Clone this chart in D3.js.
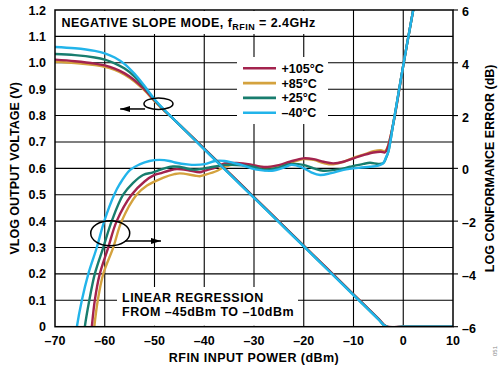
<!DOCTYPE html>
<html><head><meta charset="utf-8">
<script src="https://cdn.jsdelivr.net/npm/d3@7"></script>
<style>
html,body{margin:0;padding:0;background:#fff;}
svg{display:block;}
text{font-family:"Liberation Sans",Arial,Helvetica,sans-serif;font-weight:bold;fill:#000;}
</style></head><body>
<svg id="chart" width="500" height="370"></svg>
<script>
// ---------- DATA ----------
const seriesNames = ["+105°C", "+85°C", "+25°C", "–40°C"];
const seriesColors = ["#a3234e", "#d4a23e", "#187d6e", "#22b4ea"];
const xTicks = [-70, -60, -50, -40, -30, -20, -10, 0, 10];
const xTickLabels = ["–70", "–60", "–50", "–40", "–30", "–20", "–10", "0", "10"];
const yLeftTicks = [0, 0.1, 0.2, 0.3, 0.4, 0.5, 0.6, 0.7, 0.8, 0.9, 1.0, 1.1, 1.2];
const yLeftTickLabels = ["0", "0.1", "0.2", "0.3", "0.4", "0.5", "0.6", "0.7", "0.8", "0.9", "1.0", "1.1", "1.2"];
const yRightTicks = [-6, -4, -2, 0, 2, 4, 6];
const yRightTickLabels = ["–6", "–4", "–2", "0", "2", "4", "6"];

// VLOG output voltage (V) vs input power (dBm)
const vlogPower = [-70, -66, -62, -60, -58, -56, -54, -52, -50, -48, -46, -40, -35, -30, -25, -20, -15, -10, -5, -3.4, 0, 5, 10];
const vlog105 = [1.012, 1.006, 0.997, 0.990, 0.978, 0.960, 0.934, 0.899, 0.857, 0.819, 0.784, 0.675, 0.583, 0.491, 0.399, 0.307, 0.215, 0.123, 0.031, 0.001, 0, 0, 0];
const vlog85  = [1.004, 0.999, 0.991, 0.985, 0.973, 0.955, 0.929, 0.895, 0.855, 0.818, 0.784, 0.674, 0.582, 0.490, 0.398, 0.306, 0.214, 0.122, 0.030, 0.000, 0, 0, 0];
const vlog25  = [1.033, 1.029, 1.020, 1.012, 0.998, 0.978, 0.948, 0.907, 0.860, 0.820, 0.784, 0.673, 0.581, 0.489, 0.397, 0.305, 0.213, 0.121, 0.029, 0.000, 0, 0, 0];
const vlogM40 = [1.060, 1.055, 1.045, 1.036, 1.020, 0.995, 0.958, 0.912, 0.862, 0.821, 0.784, 0.672, 0.580, 0.488, 0.396, 0.304, 0.212, 0.120, 0.028, 0.000, 0, 0, 0];

// Log conformance error (dB) vs input power (dBm)
const errPower105 = [-62.9, -62.6, -62.0, -61.0, -59.3, -57.6, -54.6, -52.0, -50.0, -48.9, -47.0, -45.5, -43.0, -40.9, -39.9, -37.5, -35.9, -33.5, -30.8, -28.0, -25.0, -22.8, -20.1, -18.0, -16.0, -14.1, -12.0, -10.0, -8.0, -6.0, -4.5, -3.7, -3.2, -2.0, 0.0, 2.0, 2.4];
const err105      = [-6.6, -6.0, -5.0, -4.0, -3.0, -2.0, -1.0, -0.5, -0.25, -0.19, -0.08, -0.03, -0.08, -0.15, -0.09, 0.05, 0.19, 0.2, 0.15, 0.05, 0.12, 0.25, 0.38, 0.35, 0.25, 0.19, 0.25, 0.38, 0.5, 0.6, 0.63, 0.6, 0.75, 1.7, 3.9, 6.0, 6.4];
const errPower85  = [-62.4, -62.1, -61.4, -60.3, -58.3, -56.6, -53.6, -51.5, -50.0, -48.2, -46.0, -44.9, -42.0, -40.9, -39.9, -37.5, -35.9, -33.5, -30.0, -28.0, -25.0, -22.8, -20.1, -18.0, -16.0, -14.1, -12.0, -10.0, -8.0, -6.0, -4.5, -3.7, -3.2, -2.0, 0.0, 2.0, 2.4];
const err85       = [-6.6, -6.0, -5.0, -4.0, -3.0, -2.0, -1.0, -0.65, -0.5, -0.35, -0.22, -0.19, -0.27, -0.3, -0.25, -0.1, 0.06, 0.15, 0.1, 0.04, 0.1, 0.2, 0.35, 0.32, 0.2, 0.15, 0.25, 0.4, 0.52, 0.65, 0.69, 0.65, 0.78, 1.7, 3.9, 6.0, 6.4];
const errPower25  = [-64.3, -64.0, -63.1, -62.0, -60.3, -58.6, -56.3, -54.3, -52.3, -50.3, -48.0, -46.3, -45.0, -42.2, -39.9, -37.0, -35.9, -32.5, -30.0, -27.8, -25.0, -22.8, -20.1, -18.0, -16.1, -13.0, -10.7, -8.0, -6.7, -5.0, -4.0, -3.4, -3.0, -2.0, 0.0, 2.0, 2.4];
const err25       = [-6.6, -6.0, -5.0, -4.0, -3.0, -2.0, -1.0, -0.55, -0.25, -0.15, 0.0, 0.07, 0.06, -0.05, 0.0, 0.1, 0.13, 0.12, 0.05, -0.06, 0.03, 0.16, 0.13, 0.0, -0.09, -0.04, 0.06, 0.17, 0.21, 0.17, 0.2, 0.42, 0.63, 1.7, 3.9, 6.0, 6.4];
const errPowerM40 = [-66.0, -65.6, -64.6, -63.3, -61.6, -60.1, -58.1, -57.0, -54.9, -53.0, -51.0, -49.0, -47.0, -45.9, -43.0, -41.9, -39.9, -37.8, -35.9, -34.0, -32.5, -30.5, -29.1, -26.4, -24.0, -22.5, -20.5, -18.5, -16.7, -14.5, -12.0, -9.0, -6.7, -5.0, -4.0, -3.5, -3.0, -2.0, 0.0, 2.0, 2.4];
const errM40      = [-6.6, -6.0, -5.0, -4.0, -3.0, -2.0, -1.0, -0.6, -0.06, 0.15, 0.28, 0.32, 0.28, 0.22, 0.14, 0.13, 0.16, 0.28, 0.28, 0.2, 0.13, 0.0, -0.06, -0.09, 0.03, 0.13, 0.05, -0.15, -0.25, -0.18, -0.06, 0.02, 0.06, 0.1, 0.2, 0.4, 0.63, 1.7, 3.9, 6.0, 6.4];

// annotations: ellipse centres (dBm, V) and arrows (dBm from -> to, V)
const ellipseVlog = {x: -49.2, v: 0.845};
const arrowVlog = {from: -51.9, to: -56.9, v: 0.825};
const ellipseErr = {x: -58.9, v: 0.354};
const arrowErr = {from: -55.9, to: -48.7, v: 0.325};

const titleMain = "NEGATIVE SLOPE MODE, f";
const titleSub = "RFIN";
const titleEnd = " = 2.4GHz";
const noteLines = ["LINEAR REGRESSION", "FROM –45dBm TO –10dBm"];
const xTitle = "RFIN INPUT POWER (dBm)";
const yLeftTitle = "VLOG OUTPUT VOLTAGE (V)";
const yRightTitle = "LOG CONFORMANCE ERROR (dB)";
const figId = "051";

// ---------- LAYOUT ----------
const L = 55, R = 453, T = 10, B = 326.7;
const svg = d3.select("#chart");
const x = d3.scaleLinear().domain([-70, 10]).range([L, R]);
const yL = d3.scaleLinear().domain([0, 1.2]).range([B, T]);
const yR = d3.scaleLinear().domain([-6, 6]).range([B, T]);

const defs = svg.append("defs");
defs.append("clipPath").attr("id", "clip")
  .append("rect").attr("x", L).attr("y", T).attr("width", R - L).attr("height", B - T);
defs.append("marker").attr("id", "arr").attr("viewBox", "0 0 10 6")
  .attr("refX", 10).attr("refY", 3).attr("markerWidth", 10).attr("markerHeight", 6)
  .attr("markerUnits", "userSpaceOnUse").attr("orient", "auto")
  .append("path").attr("d", "M0,0 L10,3 L0,6 Z").attr("fill", "#000");

// grid
const grid = svg.append("g");
grid.selectAll("line.h").data(yLeftTicks.slice(1, -1)).enter().append("line")
  .attr("x1", L).attr("x2", R).attr("y1", d => yL(d)).attr("y2", d => yL(d))
  .attr("stroke", "#000").attr("stroke-width", 1.1);
grid.selectAll("line.v").data(xTicks.slice(1, -1)).enter().append("line")
  .attr("y1", T).attr("y2", B).attr("x1", d => x(d)).attr("x2", d => x(d))
  .attr("stroke", "#000").attr("stroke-width", 1.1);

// white boxes covering grid
svg.append("rect").attr("x", L + 1).attr("y", T + 1).attr("width", 266).attr("height", 23).attr("fill", "#fff");
svg.append("rect").attr("x", 237).attr("y", 57).attr("width", 91).attr("height", 67).attr("fill", "#fff");
svg.append("rect").attr("x", 117).attr("y", 287).attr("width", 181).attr("height", 38.7).attr("fill", "#fff");

// curves
const plot = svg.append("g").attr("clip-path", "url(#clip)");
const lineV = d3.line().x(d => x(d[0])).y(d => yL(d[1])).curve(d3.curveCatmullRom.alpha(0.5));
const lineE = d3.line().x(d => x(d[0])).y(d => yR(d[1])).curve(d3.curveCatmullRom.alpha(0.5));
const vlogSeries = [vlog105, vlog85, vlog25, vlogM40];
const errSeries = [[errPower105, err105], [errPower85, err85], [errPower25, err25], [errPowerM40, errM40]];
const drawOrder = [1, 0, 2, 3];
drawOrder.forEach(i => {
  plot.append("path").datum(d3.zip(errSeries[i][0], errSeries[i][1]))
    .attr("d", lineE).attr("fill", "none").attr("stroke", seriesColors[i]).attr("stroke-width", 2.4);
});
drawOrder.forEach(i => {
  plot.append("path").datum(d3.zip(vlogPower, vlogSeries[i]))
    .attr("d", lineV).attr("fill", "none").attr("stroke", seriesColors[i]).attr("stroke-width", 2.4);
});

// border
svg.append("rect").attr("x", L).attr("y", T).attr("width", R - L).attr("height", B - T)
  .attr("fill", "none").attr("stroke", "#000").attr("stroke-width", 1.5);

// axes tick labels
const fs = 12.5;
svg.append("g").selectAll("text").data(xTicks).enter().append("text")
  .attr("x", d => x(d)).attr("y", 344.5).attr("text-anchor", "middle").attr("font-size", fs)
  .text((d, i) => xTickLabels[i]);
svg.append("g").selectAll("text").data(yLeftTicks).enter().append("text")
  .attr("x", 46).attr("y", d => yL(d) + 4.5).attr("text-anchor", "end").attr("font-size", fs)
  .text((d, i) => yLeftTickLabels[i]);
svg.append("g").selectAll("line").data(yRightTicks).enter().append("line")
  .attr("x1", R).attr("x2", R + 5).attr("y1", d => yR(d)).attr("y2", d => yR(d))
  .attr("stroke", "#000").attr("stroke-width", 1.1);
svg.append("g").selectAll("text").data(yRightTicks).enter().append("text")
  .attr("x", 462).attr("y", d => yR(d) + 6).attr("text-anchor", "start").attr("font-size", fs)
  .text((d, i) => yRightTickLabels[i]);

// axis titles
svg.append("text").attr("x", 254).attr("y", 362).attr("text-anchor", "middle").attr("font-size", fs)
  .attr("letter-spacing", 0.45).text(xTitle);
svg.append("text").attr("transform", `translate(19,${(T + B) / 2}) rotate(-90)`)
  .attr("text-anchor", "middle").attr("font-size", fs).text(yLeftTitle);
svg.append("text").attr("transform", `translate(494,${(T + B) / 2}) rotate(-90)`)
  .attr("text-anchor", "middle").attr("font-size", fs).text(yRightTitle);

// title
const tt = svg.append("text").attr("x", 61.5).attr("y", 27).attr("font-size", fs).attr("letter-spacing", 0.45);
tt.append("tspan").text(titleMain);
tt.append("tspan").attr("font-size", 9).attr("dy", 3).text(titleSub);
tt.append("tspan").attr("font-size", fs).attr("dy", -3).text(titleEnd);

// legend
const lg = svg.append("g");
seriesNames.forEach((name, i) => {
  const yy = 68.3 + i * 14.8;
  lg.append("line").attr("x1", 243).attr("x2", 276).attr("y1", yy).attr("y2", yy)
    .attr("stroke", seriesColors[i]).attr("stroke-width", 2.6);
  lg.append("text").attr("x", 281.5).attr("y", yy + 4.5).attr("font-size", fs).text(name);
});

// note
noteLines.forEach((t, i) => {
  svg.append("text").attr("x", 122).attr("y", 302.3 + i * 13.5).attr("font-size", fs)
    .attr("letter-spacing", 0.5).text(t);
});

// annotations
const ann = svg.append("g").attr("fill", "none").attr("stroke", "#000").attr("stroke-width", 1.5);
ann.append("ellipse").attr("cx", x(ellipseVlog.x)).attr("cy", yL(ellipseVlog.v)).attr("rx", 14.5).attr("ry", 5.8);
ann.append("line").attr("x1", x(arrowVlog.from)).attr("x2", x(arrowVlog.to))
  .attr("y1", yL(arrowVlog.v)).attr("y2", yL(arrowVlog.v)).attr("marker-end", "url(#arr)");
ann.append("ellipse").attr("cx", x(ellipseErr.x)).attr("cy", yL(ellipseErr.v)).attr("rx", 19.5).attr("ry", 12.5);
ann.append("line").attr("x1", x(arrowErr.from)).attr("x2", x(arrowErr.to))
  .attr("y1", yL(arrowErr.v)).attr("y2", yL(arrowErr.v)).attr("marker-end", "url(#arr)");

// figure id
svg.append("text").attr("transform", "translate(497,356) rotate(-90)").attr("font-size", 6)
  .style("fill", "#888").style("font-weight", "normal").text(figId);
</script>
</body></html>
